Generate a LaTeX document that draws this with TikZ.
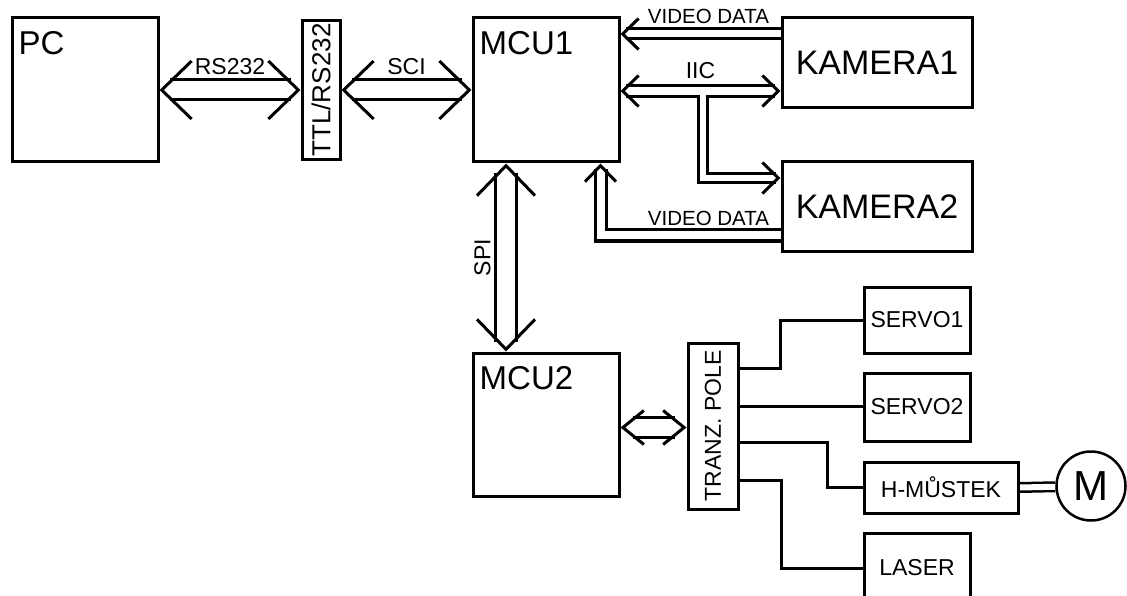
\documentclass[tikz,border=0pt]{standalone}
\usepackage{fontspec}
\setmainfont{Liberation Sans}
\usetikzlibrary{arrows.meta, backgrounds}

\begin{document}
\begin{tikzpicture}[x=1pt, y=-1pt,
        block/.style={rectangle, draw, line width=3pt, inner sep=0pt, font=\fontsize{23}{26}\selectfont},
        bigtext/.style={font=\fontsize{34}{40}\selectfont},
        cornertext/.style={label={[anchor=north west, inner sep=0pt, xshift=8pt, yshift=-15pt, font=\fontsize{33}{38}\selectfont]north west:#1}},
        lbl/.style={inner sep=0pt, font=\fontsize{23}{25}\selectfont},
        tlbl/.style={inner sep=0pt, font=\fontsize{20.5}{23}\selectfont},
        bus/.style n args={3}{draw=white, line width=3pt,
            preaction={draw=black, double=white, double distance=#1, shorten <=#2, shorten >=#3, arrows=-}},
        wire/.style={line width=3pt},
        busbig/.tip={Straight Barb[color=black, sharp, length=30pt, width=58pt]},
        busmid/.tip={Straight Barb[color=black, sharp, length=21pt, width=34pt]},
        busmini/.tip={Straight Barb[color=black, sharp, length=16pt, width=31pt]}
    ]
    \useasboundingbox (0,0) rectangle (1127,596);
    \clip (0,0) rectangle (1127,596);

    % Nodes
    \node[block, minimum width=146pt, minimum height=144pt, cornertext=PC] (pc) at (85,90) {};
    \node[block, minimum width=38pt, minimum height=139pt, font=\fontsize{26}{30}\selectfont] (ttl) at (321,90) {\rotatebox{90}{TTL/RS232}};
    \node[block, minimum width=146pt, minimum height=144pt, cornertext=MCU1] (mcu1) at (546,90) {};
    \node[block, bigtext, minimum width=190pt, minimum height=90pt] (kam1) at (877,63) {KAMERA1};
    \node[block, bigtext, minimum width=190pt, minimum height=89pt] (kam2) at (877,206.5) {KAMERA2};
    \node[block, minimum width=146pt, minimum height=143pt, cornertext=MCU2] (mcu2) at (546,424.5) {};
    \node[block, minimum width=50pt, minimum height=166pt] (tranz) at (713,426) {\rotatebox{90}{TRANZ. POLE}};
    \node[block, minimum width=106pt, minimum height=66pt] (servo1) at (917,320) {SERVO1};
    \node[block, minimum width=106pt, minimum height=68pt] (servo2) at (917,407) {SERVO2};
    \node[block, minimum width=154pt, minimum height=51pt] (hbridge) at (941,487.5) {H-MŮSTEK};
    \node[block, minimum width=106pt, minimum height=70pt] (laser) at (917,568) {LASER};
    \node[circle, draw, line width=2.5pt, minimum size=69pt, inner sep=0pt, font=\fontsize{42}{46}\selectfont] (motor) at (1091,486) {M};

    \begin{scope}[on background layer]
        % Buses
        \draw[bus={17pt}{10pt}{10pt}, busbig-busbig] (pc) -- (ttl) node[midway, lbl, above=14pt] {RS232};
        \draw[bus={17pt}{10pt}{10pt}, busbig-busbig] (ttl) -- (mcu1) node[midway, lbl, above=14pt] {SCI};
        \draw[bus={18pt}{10pt}{10pt}, busbig-busbig] ([xshift=-40pt]mcu2.north) -- ([xshift=-40pt]mcu1.south) node[midway, lbl, left=14pt] {\rotatebox{90}{SPI}};

        \draw[bus={7pt}{0pt}{5pt}, -busmini] ([yshift=29pt]kam1.west) -- ([yshift=29pt]kam1.west -| mcu1.east) node[pos=0.45, tlbl, above=9pt] {VIDEO DATA};
        \draw[bus={8pt}{5.5pt}{5.5pt}, busmini-busmini] ([yshift=-1pt]mcu1.east) -- ([yshift=-1pt]mcu1.east -| kam1.west) coordinate[midway] (iic) node[midway, lbl, above=11pt] {IIC};
        \draw[bus={6pt}{0pt}{5pt}, -busmini] ([xshift=2pt, yshift=-4pt]iic) |- ([yshift=28.5pt]kam2.west);
        \draw[bus={8pt}{0pt}{6pt}, -busmini] ([yshift=-29pt]kam2.west) -| ([xshift=54.5pt]mcu1.south) node[pos=0.2, tlbl, above=8.5pt] {VIDEO DATA};

        \draw[bus={17pt}{12pt}{12pt}, busmid-busmid] ([yshift=-3pt]mcu2.east) -- ([yshift=-3pt]mcu2.east -| tranz.west);

        % Outputs of the transistor array
        \draw[wire] ([yshift=58pt]tranz.east) -- ++(41,0) |- (servo1.west);
        \draw[wire] ([yshift=20pt]tranz.east) -- ([yshift=20pt]tranz.east -| servo2.west);
        \draw[wire] ([yshift=-16pt]tranz.east) -- ++(88,0) |- (hbridge.west);
        \draw[wire] ([yshift=-54pt]tranz.east) -- ++(42,0) |- (laser.west);
        \draw[line width=2.5pt, double, double distance=6pt] (hbridge.east) -- (motor);
    \end{scope}

\end{tikzpicture}
\end{document}
